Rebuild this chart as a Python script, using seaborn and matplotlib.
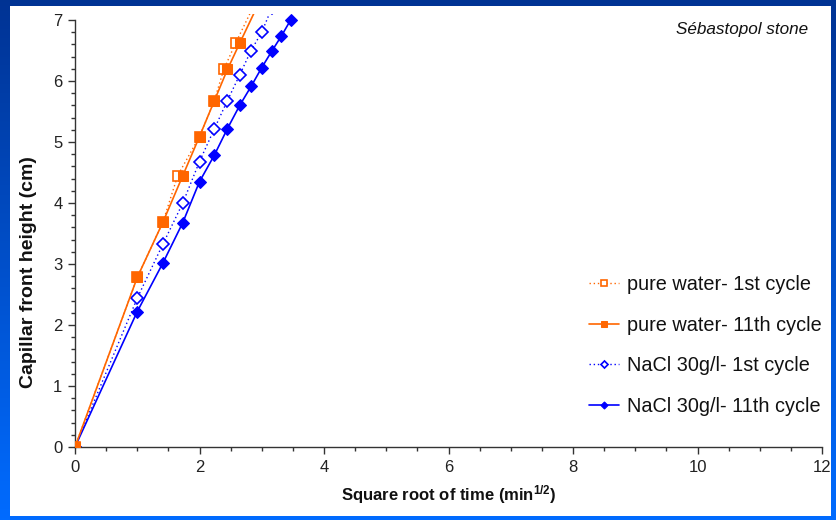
import matplotlib
matplotlib.use("Agg")
import matplotlib.pyplot as plt
import numpy as np
import pandas as pd
import seaborn as sns
from matplotlib.patches import Rectangle
from matplotlib.ticker import MultipleLocator

# Capillary rise measurements: sqrt(time) in min^1/2 vs front height in cm
water_1st_x = [0, 1.0, 1.414, 1.65, 2.0, 2.236, 2.39, 2.58, 2.95]
water_1st_y = [0, 2.78, 3.69, 4.45, 5.09, 5.67, 6.19, 6.62, 7.40]

water_11th_x = [0, 1.0, 1.414, 1.732, 2.0, 2.236, 2.449, 2.646, 3.0]
water_11th_y = [0, 2.78, 3.69, 4.45, 5.09, 5.67, 6.19, 6.62, 7.38]

nacl_1st_x = [0, 1.0, 1.414, 1.732, 2.0, 2.236, 2.449, 2.646, 2.828, 3.0, 3.162]
nacl_1st_y = [0, 2.44, 3.33, 4.00, 4.68, 5.21, 5.68, 6.10, 6.50, 6.80, 7.20]

nacl_11th_x = [0, 1.0, 1.414, 1.732, 2.0, 2.236, 2.449, 2.646, 2.828, 3.0, 3.162, 3.317, 3.464]
nacl_11th_y = [0, 2.22, 3.02, 3.68, 4.35, 4.78, 5.22, 5.60, 5.91, 6.22, 6.49, 6.74, 7.00]

labels = ["pure water- 1st cycle", "pure water- 11th cycle",
          "NaCl 30g/l- 1st cycle", "NaCl 30g/l- 11th cycle"]

ORANGE = "#FF6600"
BLUE = "#0000FF"

sns.set_theme(style="white")
plt.rcParams["font.family"] = ["Liberation Sans", "DejaVu Sans"]
plt.rcParams["mathtext.fontset"] = "custom"
plt.rcParams["mathtext.rm"] = "Liberation Sans:bold"
plt.rcParams["mathtext.bf"] = "Liberation Sans:bold"
plt.rcParams["mathtext.default"] = "rm"

W, H = 836, 520
fig = plt.figure(figsize=(W / 100, H / 100), dpi=100)

# Blue gradient frame behind a white panel
bg = fig.add_axes([0, 0, 1, 1], zorder=-10)
grad = np.linspace(0, 1, 256)[:, None]
top = np.array([0.0, 0.20, 0.58])
bot = np.array([0.0, 0.42, 1.0])
img = top[None, None, :] * (1 - grad[:, :, None]) + bot[None, None, :] * grad[:, :, None]
bg.imshow(img, aspect="auto", extent=[0, 1, 0, 1], origin="upper")
bg.add_patch(Rectangle((10 / W, 4 / H), (831 - 10) / W, (515 - 5) / H,
                       facecolor="white", edgecolor="none"))
bg.set_xlim(0, 1)
bg.set_ylim(0, 1)
bg.axis("off")

ax = fig.add_axes([75 / W, (H - 447) / H, (822 - 75) / W, (447 - 20) / H])
ax.set_facecolor("none")

frames = []
for lab, xs, ys in [(labels[0], water_1st_x, water_1st_y),
                    (labels[1], water_11th_x, water_11th_y),
                    (labels[2], nacl_1st_x, nacl_1st_y),
                    (labels[3], nacl_11th_x, nacl_11th_y)]:
    frames.append(pd.DataFrame({"t": xs, "h": ys, "series": lab}))
df = pd.concat(frames, ignore_index=True)

styles = {
    labels[0]: dict(color=ORANGE, linestyle=(0, (1, 2)), marker="s", markersize=7,
                    markerfacecolor="white", markeredgecolor=ORANGE, markeredgewidth=1.2, lw=1.0, zorder=3),
    labels[1]: dict(color=ORANGE, linestyle="-", marker="s", markersize=7,
                    markerfacecolor=ORANGE, markeredgecolor=ORANGE, lw=1.2, zorder=4),
    labels[2]: dict(color=BLUE, linestyle=(0, (1, 2)), marker="D", markersize=6,
                    markerfacecolor="white", markeredgecolor=BLUE, markeredgewidth=1.2, lw=1.0, zorder=2),
    labels[3]: dict(color=BLUE, linestyle="-", marker="D", markersize=6,
                    markerfacecolor=BLUE, markeredgecolor=BLUE, lw=1.2, zorder=1),
}

for lab in labels:
    sub = df[df["series"] == lab]
    sns.lineplot(data=sub, x="t", y="h", ax=ax, sort=False, estimator=None,
                 label=lab, **styles[lab])

clip = Rectangle((0, 0), 1, 1.014, transform=ax.transAxes, facecolor="none", edgecolor="none")
ax.add_patch(clip)
for line in ax.lines:
    line.set_clip_path(clip)

ax.set_xlim(0, 12)
ax.set_ylim(0, 7)
ax.xaxis.set_major_locator(MultipleLocator(2))
ax.xaxis.set_minor_locator(MultipleLocator(0.5))
ax.yaxis.set_major_locator(MultipleLocator(1))
ax.yaxis.set_minor_locator(MultipleLocator(0.2))
ax.tick_params(which="major", direction="out", length=5, width=1, color="#333333",
               labelsize=12, labelcolor="#222222", bottom=True, left=True, pad=4)
ax.tick_params(which="minor", direction="out", length=3, width=1, color="#333333",
               bottom=True, left=True)
for s in ["top", "right"]:
    ax.spines[s].set_visible(False)
for s in ["left", "bottom"]:
    ax.spines[s].set_color("#333333")
    ax.spines[s].set_linewidth(1.0)

ax.set_xlabel(r"Square root of time (min$^{1/2}$)", fontsize=12, fontweight="bold",
              color="#111111", labelpad=6)
ax.set_ylabel("Capillar front height (cm)", fontsize=14, fontweight="bold",
              color="#111111")
ax.yaxis.set_label_coords(-0.051, 0.41)

ax.text(0.981, 0.977, "Sébastopol stone", transform=ax.transAxes, ha="right", va="center",
        fontsize=12.3, fontstyle="italic", color="#111111")

leg = ax.legend(loc="upper left", bbox_to_anchor=(0.688, 0.403), frameon=False,
                fontsize=14.3, handlelength=1.5, handletextpad=0.4, labelspacing=1.09,
                markerscale=0.6, borderaxespad=0, borderpad=0)
for t in leg.get_texts():
    t.set_color("#111111")

fig.savefig("out.png", dpi=100)
